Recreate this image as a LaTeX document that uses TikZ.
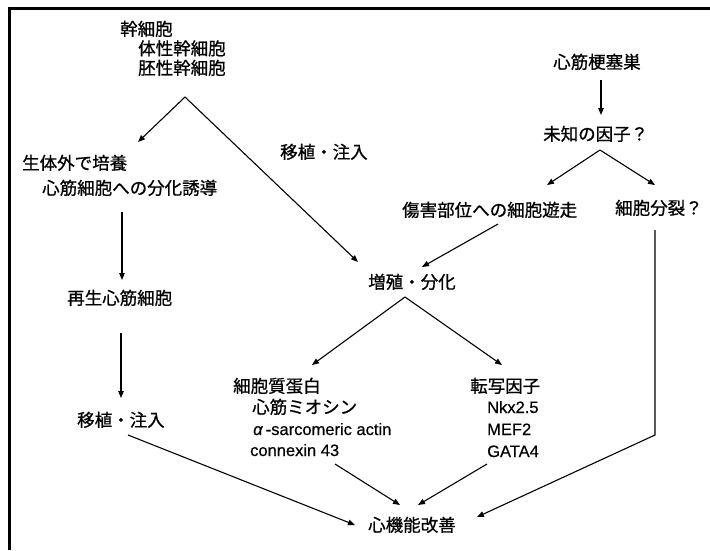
\documentclass[tikz,border=0pt]{standalone}
\usepackage{fontspec}
\setmainfont[FakeBold=0.5]{Liberation Sans}
\newfontfamily\cjk[FakeBold=0.8]{Noto Sans CJK JP}
\usetikzlibrary{arrows.meta}
\begin{document}
\begin{tikzpicture}[x=1pt,y=-1pt,
  jp/.style={anchor=base west,inner sep=0pt,font=\cjk\fontsize{17.5}{20}\selectfont},
  lat/.style={anchor=base west,inner sep=0pt,font=\fontsize{16.5}{19}\selectfont},
  conn/.style={line width=1.1pt,-{Triangle[length=7pt,width=5.5pt]}},
  frameline/.style={line width=3pt}]
\useasboundingbox (0,0) rectangle (710,550);
% frame
\coordinate (fTR) at (710,8.5);
\coordinate (fTL) at (9,8.5);
\coordinate (fBL) at (9,550);
\draw[frameline] (fTR) -- (fTL) -- (fBL);

% texts
\node[jp] (stem1) at (120,35.5) {幹細胞};
\node[jp] (stem2) at (138,55) {体性幹細胞};
\node[jp] (stem3) at (138,74.5) {胚性幹細胞};
\node[jp] (tx1) at (280,158.5) {移植・注入};
\node[jp] (cul1) at (22,169.5) {生体外で培養};
\node[jp] (cul2) at (42,194.5) {心筋細胞への分化誘導};
\node[jp] (regen) at (67,304.5) {再生心筋細胞};
\node[jp] (tx2) at (77,426.5) {移植・注入};
\node[jp] (mi) at (553,68.5) {心筋梗塞巣};
\node[jp] (unk) at (543,140.5) {未知の因子？};
\node[jp] (mig) at (402,216.5) {傷害部位への細胞遊走};
\node[jp] (div) at (615,214.5) {細胞分裂？};
\node[jp] (prolif) at (368,288.5) {増殖・分化};
\node[jp] (cyto) at (233,392.5) {細胞質蛋白};
\node[jp] (myo) at (252,413.5) {心筋ミオシン};
\node[lat] (actin) at (253,435) {\textit{α}\,-sarcomeric actin};
\node[lat] (cx) at (250,456) {connexin 43};
\node[jp] (tf) at (470,392.5) {転写因子};
\node[lat] (nkx) at (487,413) {Nkx2.5};
\node[lat] (mef) at (487,435) {MEF2};
\node[lat] (gata) at (487,457) {GATA4};
\node[jp] (heart) at (368,531.5) {心機能改善};

% connector end points
\coordinate (stemApex) at (185,97);
\coordinate (culTip) at (138,142);
\coordinate (prolifTipL) at (358,262);
\coordinate (culOut) at (122,212);
\coordinate (regenTip) at (122,280);
\coordinate (regenOut) at (121,333);
\coordinate (tx2Tip) at (121,398);
\coordinate (tx2Out) at (128,435);
\coordinate (heartTipA) at (355,525);
\coordinate (miOut) at (601,80);
\coordinate (unkTip) at (601,115);
\coordinate (unkApex) at (600,150);
\coordinate (migTip) at (547,185);
\coordinate (divTip) at (655,185);
\coordinate (migOut) at (498,224);
\coordinate (prolifTipR) at (422,267);
\coordinate (divOut) at (655,230);
\coordinate (divBend) at (655,435);
\coordinate (heartTipD) at (477,517);
\coordinate (prolifApex) at (405,297);
\coordinate (cytoTip) at (312,365);
\coordinate (tfTip) at (502,365);
\coordinate (cxOut) at (335,464);
\coordinate (heartTipB) at (400,505);
\coordinate (gataOut) at (487,464);
\coordinate (heartTipC) at (418,505);

\draw[conn] (stemApex) -- (culTip);
\draw[conn] (stemApex) -- (prolifTipL);
\draw[conn] (culOut) -- (regenTip);
\draw[conn] (regenOut) -- (tx2Tip);
\draw[conn] (tx2Out) -- (heartTipA);
\draw[conn] (miOut) -- (unkTip);
\draw[conn] (unkApex) -- (migTip);
\draw[conn] (unkApex) -- (divTip);
\draw[conn] (migOut) -- (prolifTipR);
\draw[conn] (divOut) -- (divBend) -- (heartTipD);
\draw[conn] (prolifApex) -- (cytoTip);
\draw[conn] (prolifApex) -- (tfTip);
\draw[conn] (cxOut) -- (heartTipB);
\draw[conn] (gataOut) -- (heartTipC);
\end{tikzpicture}
\end{document}
